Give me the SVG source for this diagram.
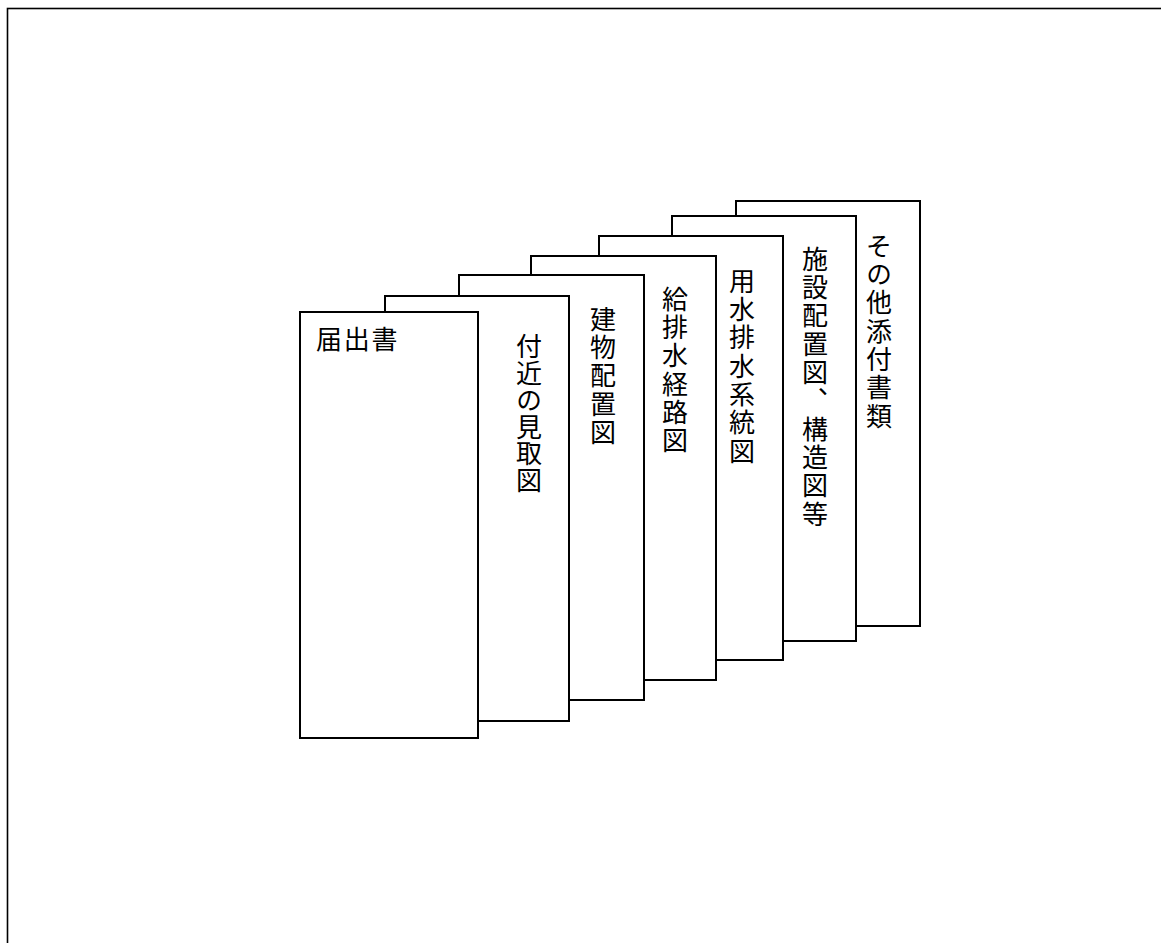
<svg xmlns="http://www.w3.org/2000/svg" width="1161" height="943" viewBox="0 0 1161 943">
<style>
.frame{fill:none;stroke:#000;stroke-width:1.6}
.sheet{fill:#fff;stroke:#000;stroke-width:2}
.lbl{font-family:"Noto Sans CJK JP","Noto Sans CJK SC",sans-serif;font-size:26px;fill:#000}
.v{writing-mode:vertical-rl;letter-spacing:2.3px}
</style>
<rect x="0" y="0" width="1161" height="943" fill="#fff"/>
<rect class="frame" x="7.5" y="8.5" width="1300" height="1100"/>
<g id="sheet7">
<rect class="sheet" x="736" y="201" width="184" height="425"/>
<text class="lbl v" x="879" y="233">その他添付書類</text>
</g>
<g id="sheet6">
<rect class="sheet" x="672" y="216" width="184" height="425"/>
<text class="lbl v" x="815" y="246">施設配置図、構造図等</text>
</g>
<g id="sheet5">
<rect class="sheet" x="599" y="236" width="184" height="424"/>
<text class="lbl v" x="742" y="268">用水排水系統図</text>
</g>
<g id="sheet4">
<rect class="sheet" x="531" y="256" width="185" height="424"/>
<text class="lbl v" x="675" y="286">給排水経路図</text>
</g>
<g id="sheet3">
<rect class="sheet" x="459" y="275" width="185" height="425"/>
<text class="lbl v" x="603" y="306">建物配置図</text>
</g>
<g id="sheet2">
<rect class="sheet" x="385" y="296" width="184" height="425"/>
<text class="lbl v" x="529" y="333" style="letter-spacing:0.9px">付近の見取図</text>
</g>
<g id="sheet1">
<rect class="sheet" x="300" y="312" width="178" height="426"/>
<text class="lbl" x="316" y="349" style="letter-spacing:1.7px">届出書</text>
</g>
</svg>
